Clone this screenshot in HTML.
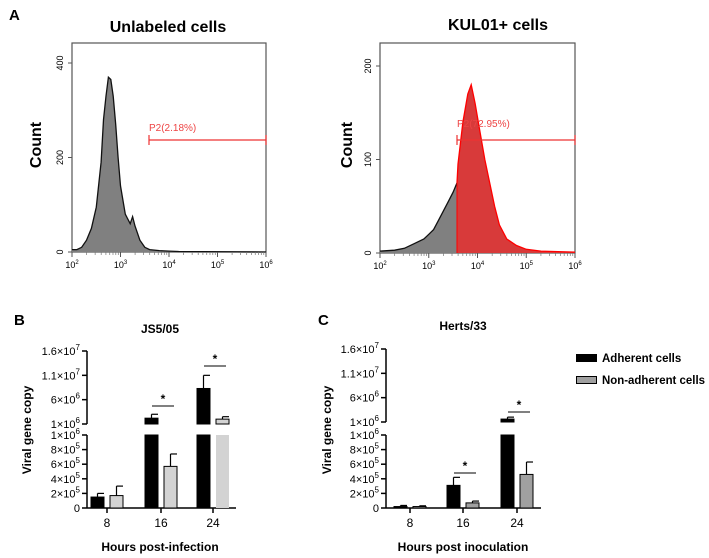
<!DOCTYPE html>
<html><head><meta charset="utf-8"><style>
body{margin:0;background:#fff;font-family:"Liberation Sans",Arial,sans-serif}
svg{display:block}
</style></head><body>
<svg id="fig" width="709" height="558" viewBox="0 0 709 558" xmlns="http://www.w3.org/2000/svg" font-family="Liberation Sans, Arial, sans-serif">
<text x="9" y="20" font-size="15" font-weight="bold">A</text>
<text x="168" y="32" font-size="16" font-weight="bold" text-anchor="middle">Unlabeled cells</text>
<text x="498" y="30" font-size="16" font-weight="bold" text-anchor="middle">KUL01+ cells</text>
<text transform="translate(41,145) rotate(-90)" font-size="16" font-weight="bold" text-anchor="middle">Count</text>
<text transform="translate(352,145) rotate(-90)" font-size="16" font-weight="bold" text-anchor="middle">Count</text>
<text x="14" y="325" font-size="15" font-weight="bold">B</text>
<text x="160" y="333" font-size="12" font-weight="bold" text-anchor="middle">JS5/05</text>
<text x="318" y="325" font-size="15" font-weight="bold">C</text>
<text x="463" y="330" font-size="12" font-weight="bold" text-anchor="middle">Herts/33</text>
<text transform="translate(31,430) rotate(-90)" font-size="12" font-weight="bold" text-anchor="middle">Viral gene copy</text>
<text transform="translate(331,430) rotate(-90)" font-size="12" font-weight="bold" text-anchor="middle">Viral gene copy</text>
<text x="160" y="551" font-size="12" font-weight="bold" text-anchor="middle">Hours post-infection</text>
<text x="463" y="551" font-size="12" font-weight="bold" text-anchor="middle">Hours post inoculation</text>
<rect x="576" y="354" width="21" height="8" fill="#000"/>
<text x="602" y="362" font-size="11.5" font-weight="bold">Adherent cells</text>
<rect x="576.5" y="376.5" width="20" height="7" fill="#a0a0a0" stroke="#000"/>
<text x="602" y="384" font-size="11.5" font-weight="bold" textLength="103" lengthAdjust="spacingAndGlyphs">Non-adherent cells</text>
<g id="g"></g>
</svg>
<script>
const leftLog=[2.0,2.1,2.2,2.3,2.4,2.5,2.6,2.65,2.7,2.75,2.8,2.85,2.9,2.95,3.0,3.1,3.2,3.25,3.3,3.4,3.5,3.6,3.8,4.0,4.2,6.0];
const leftCount=[5,5,10,25,50,95,190,280,330,370,365,330,270,200,140,80,60,75,55,25,10,5,3,2,1,0];
const rightLog=[2.0,2.3,2.5,2.7,2.9,3.0,3.1,3.2,3.3,3.4,3.5,3.58,3.6,3.7,3.8,3.87,3.95,4.05,4.15,4.25,4.35,4.45,4.6,4.8,5.0,5.3,6.0];
const rightCount=[2,3,5,10,15,20,25,35,45,55,65,75,95,140,170,180,160,130,100,75,50,30,15,8,4,2,1];
const leftYTicks=[0,200,400];
const rightYTicks=[0,100,200];
const xDecades=[2,3,4,5,6];
const groups=['8','16','24'];
const bAdh=[1.5e5,2.2e6,8.3e6], bAdhErr=[2.0e5,3.0e6,1.1e7];
const bNon=[1.7e5,5.7e5,2.0e6], bNonErr=[3.0e5,7.4e5,2.5e6];
const cAdh=[2e4,3.1e5,1.6e6], cAdhErr=[3.5e4,4.2e5,2.0e6];
const cNon=[2e4,7e4,4.6e5], cNonErr=[3e4,9.5e4,6.3e5];
const lowTicks=[0,2e5,4e5,6e5,8e5,1e6];
const lowLabels=['0','2×10<tspan dy="-5" font-size="8">5</tspan>','4×10<tspan dy="-5" font-size="8">5</tspan>','6×10<tspan dy="-5" font-size="8">5</tspan>','8×10<tspan dy="-5" font-size="8">5</tspan>','1×10<tspan dy="-5" font-size="8">6</tspan>'];
const upTicks=[1e6,6e6,1.1e7,1.6e7];
const upLabels=['1×10<tspan dy="-5" font-size="8">6</tspan>','6×10<tspan dy="-5" font-size="8">6</tspan>','1.1×10<tspan dy="-5" font-size="8">7</tspan>','1.6×10<tspan dy="-5" font-size="8">7</tspan>'];
const G=document.getElementById('g');
const NS='http://www.w3.org/2000/svg';
function mk(t,a,p){const e=document.createElementNS(NS,t);for(const k in a)e.setAttribute(k,a[k]);(p||G).appendChild(e);return e;}

function interp(logs,counts,l){
  for(let i=0;i<logs.length-1;i++){if(l>=logs[i]&&l<=logs[i+1]){const f=(l-logs[i])/(logs[i+1]-logs[i]);return counts[i]+f*(counts[i+1]-counts[i]);}}
  return 0;
}
function histArea(x0,x1,y0,yTop,ymaxVal,logs,counts,lo,hi,fill,stroke,name){
  const sx=l=>x0+(l-2)/4*(x1-x0);
  const sy=c=>y0-c/ymaxVal*(y0-yTop);
  const pts=[[lo,interp(logs,counts,lo)]];
  for(let i=0;i<logs.length;i++)if(logs[i]>lo&&logs[i]<hi)pts.push([logs[i],counts[i]]);
  pts.push([hi,interp(logs,counts,hi)]);
  const s=pts.map(p=>sx(p[0]).toFixed(1)+','+sy(p[1]).toFixed(1));
  const poly=mk('polygon',{points:[sx(lo)+','+y0].concat(s,[sx(hi)+','+y0]).join(' '),fill:fill,stroke:'none'});
  
  
  mk('polyline',{points:s.join(' '),fill:'none',stroke:stroke,'stroke-width':1.3});
}
function frame(x0,x1,y0,pre){
  const box=mk('rect',{x:x0,y:43,width:x1-x0,height:y0-43,fill:'none',stroke:'#555','stroke-width':1.2});
  
  
}
function axesHist(x0,x1,y0,yTop,ymaxVal,yTicks,pre){
  const sy=c=>y0-c/ymaxVal*(y0-yTop);
  yTicks.forEach(v=>{
    const t=mk('text',{transform:`translate(${x0-9},${sy(v)}) rotate(-90)`,'font-size':9,'text-anchor':'middle'});
    t.textContent=v;
    
    
    mk('line',{x1:x0-4,x2:x0,y1:sy(v),y2:sy(v),stroke:'#555'});
  });
  xDecades.forEach(d=>{
    const x=x0+(d-2)/4*(x1-x0);
    const t=mk('text',{x:x,y:y0+16,'font-size':9,'text-anchor':'middle'});
    t.innerHTML='10<tspan dy="-4" font-size="6">'+d+'</tspan>';
    
    
    mk('line',{x1:x,x2:x,y1:y0,y2:y0+5,stroke:'#555'});
    if(d<6)for(let m=2;m<10;m++){const xm=x+Math.log10(m)/4*(x1-x0);mk('line',{x1:xm,x2:xm,y1:y0,y2:y0+3,stroke:'#777','stroke-width':0.7});}
  });
}
function gate(xa,xb,y,label,ly,pre){
  mk('line',{x1:xa,x2:xb,y1:y,y2:y,stroke:'#e33','stroke-width':1.2});
  mk('line',{x1:xa,x2:xa,y1:y-5,y2:y+5,stroke:'#e33','stroke-width':1.2});
  mk('line',{x1:xb,x2:xb,y1:y-5,y2:y+5,stroke:'#e33','stroke-width':1.2});
  const t=mk('text',{x:xa,y:ly,'font-size':10,fill:'#e44'});t.textContent=label;
  
  
}
// Left histogram
frame(72,266,252,'unlabeled');
histArea(72,266,252,63,400,leftLog,leftCount,2,6,'#808080','#111','unlabeled-histogram');
axesHist(72,266,252,63,400,leftYTicks,'unlabeled');
gate(149,266,140,'P2(2.18%)',131,'unlabeled');
// Right histogram
const thr=3.58;
frame(380,575,253,'kul01');
histArea(380,575,253,66,200,rightLog,rightCount,2,thr,'#808080','#111','kul01-negative-histogram');
histArea(380,575,253,66,200,rightLog,rightCount,thr,6,'#d83a3a','#f00','kul01-positive-histogram');
mk('line',{x1:457,x2:457,y1:253,y2:253-75/200*187,stroke:'#f00','stroke-width':1});
axesHist(380,575,253,66,200,rightYTicks,'kul01');
gate(457,575,140,'P2(72.95%)',127,'kul01');

function bars(ax,xEnd,gx,adh,adhE,non,nonE,nonFill,up1,up16,sig,pre){
  const y0=508,low1=435;
  const yl=v=>y0-v/1e6*(y0-low1);
  const yu=v=>up1-(v-1e6)/1.5e7*(up1-up16);
  mk('line',{x1:ax,x2:ax,y1:y0,y2:low1,stroke:'#000','stroke-width':1.5});
  mk('line',{x1:ax,x2:ax,y1:up1,y2:up16,stroke:'#000','stroke-width':1.5});
  mk('line',{x1:ax,x2:xEnd,y1:y0,y2:y0,stroke:'#000','stroke-width':1.5});
  lowTicks.forEach((v,i)=>{mk('line',{x1:ax-5,x2:ax,y1:yl(v),y2:yl(v),stroke:'#000','stroke-width':1.5});
    const tt=mk('text',{x:ax-7,y:yl(v)+4,'font-size':11,'text-anchor':'end'});tt.innerHTML=lowLabels[i];
    
    });
  upTicks.forEach((v,i)=>{mk('line',{x1:ax-5,x2:ax,y1:yu(v),y2:yu(v),stroke:'#000','stroke-width':1.5});
    const tt=mk('text',{x:ax-7,y:yu(v)+4,'font-size':11,'text-anchor':'end'});tt.innerHTML=upLabels[i];
    
    });
  function bar(x,v,e,fill,name){
    const w=13;
    const yv=v<=1e6?yl(v):yu(v), ye=e<=1e6?yl(e):yu(e);
    mk('line',{x1:x+w/2,x2:x+w/2,y1:yv,y2:ye,stroke:'#000','stroke-width':1.2});
    mk('line',{x1:x+w/2,x2:x+w,y1:ye,y2:ye,stroke:'#000','stroke-width':1.2});
    if(v<=1e6){const r=mk('rect',{x:x,y:yl(v),width:w,height:y0-yl(v),fill:fill,stroke:'#000','stroke-width':1});
      }
    else{const r=mk('rect',{x:x,y:low1,width:w,height:y0-low1,fill:fill,stroke:fill=='#000'?'#000':'none'});
      
      const r2=mk('rect',{x:x,y:yu(v),width:w,height:up1-yu(v),fill:fill,stroke:'#000','stroke-width':1});
      }
  }
  groups.forEach((g,i)=>{
    bar(gx[i]-16,adh[i],adhE[i],'#000',pre+'-adherent-bar-'+g);
    bar(gx[i]+3,non[i],nonE[i],nonFill,pre+'-non-adherent-bar-'+g);
    mk('line',{x1:gx[i],x2:gx[i],y1:y0,y2:y0+5,stroke:'#000','stroke-width':1.5});
    const tt=mk('text',{x:gx[i],y:y0+19,'font-size':12,'text-anchor':'middle'});tt.textContent=g;
    
    
  });
  sig.forEach(s=>{
    const i=s[0];const yy=s[1];
    mk('line',{x1:gx[i]-9,x2:gx[i]+13,y1:yy,y2:yy,stroke:'#000','stroke-width':1});
    const st=mk('text',{x:gx[i]+2,y:yy-3,'font-size':12,'font-weight':'bold','text-anchor':'middle'});st.textContent='*';
    
    
  });
}
bars(87,236,[107,161,213],bAdh,bAdhErr,bNon,bNonErr,'#d3d3d3',424,351,[[1,406],[2,366]],'b');
bars(386,541,[410,463,517],cAdh,cAdhErr,cNon,cNonErr,'#a0a0a0',422,349,[[1,473],[2,412]],'c');
</script>
</body></html>
